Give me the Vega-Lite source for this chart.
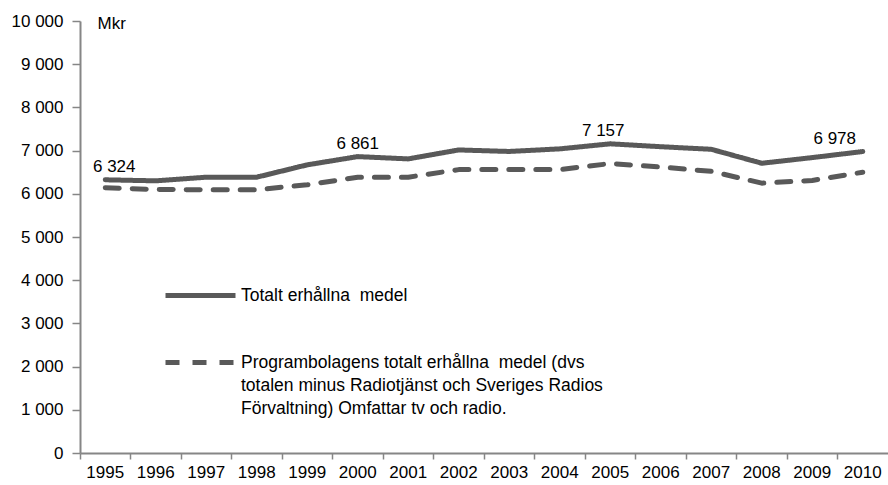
{
  "$schema": "https://vega.github.io/schema/vega-lite/v6.json",
  "width": 808,
  "height": 432,
  "autosize": {"type": "none"},
  "padding": {"left": 80, "top": 21, "right": 0, "bottom": 32},
  "background": "white",
  "config": {
    "view": {"stroke": null},
    "font": "Liberation Sans",
    "style": {"guide-label": {"lineHeight": 23}}
  },
  "data": {
    "values": [
      {"year": "1995", "series": "A", "value": 6324, "label": "6 324"},
      {"year": "1996", "series": "A", "value": 6300, "label": ""},
      {"year": "1997", "series": "A", "value": 6384, "label": ""},
      {"year": "1998", "series": "A", "value": 6384, "label": ""},
      {"year": "1999", "series": "A", "value": 6670, "label": ""},
      {"year": "2000", "series": "A", "value": 6861, "label": "6 861"},
      {"year": "2001", "series": "A", "value": 6808, "label": ""},
      {"year": "2002", "series": "A", "value": 7015, "label": ""},
      {"year": "2003", "series": "A", "value": 6980, "label": ""},
      {"year": "2004", "series": "A", "value": 7040, "label": ""},
      {"year": "2005", "series": "A", "value": 7157, "label": "7 157"},
      {"year": "2006", "series": "A", "value": 7090, "label": ""},
      {"year": "2007", "series": "A", "value": 7030, "label": ""},
      {"year": "2008", "series": "A", "value": 6707, "label": ""},
      {"year": "2009", "series": "A", "value": 6838, "label": ""},
      {"year": "2010", "series": "A", "value": 6978, "label": "6 978"},
      {"year": "1995", "series": "B", "value": 6140, "label": ""},
      {"year": "1996", "series": "B", "value": 6100, "label": ""},
      {"year": "1997", "series": "B", "value": 6094, "label": ""},
      {"year": "1998", "series": "B", "value": 6094, "label": ""},
      {"year": "1999", "series": "B", "value": 6209, "label": ""},
      {"year": "2000", "series": "B", "value": 6384, "label": ""},
      {"year": "2001", "series": "B", "value": 6384, "label": ""},
      {"year": "2002", "series": "B", "value": 6560, "label": ""},
      {"year": "2003", "series": "B", "value": 6560, "label": ""},
      {"year": "2004", "series": "B", "value": 6560, "label": ""},
      {"year": "2005", "series": "B", "value": 6700, "label": ""},
      {"year": "2006", "series": "B", "value": 6620, "label": ""},
      {"year": "2007", "series": "B", "value": 6520, "label": ""},
      {"year": "2008", "series": "B", "value": 6247, "label": ""},
      {"year": "2009", "series": "B", "value": 6309, "label": ""},
      {"year": "2010", "series": "B", "value": 6500, "label": ""}
    ]
  },
  "encoding": {
    "x": {
      "field": "year",
      "type": "ordinal",
      "scale": {"type": "band", "paddingInner": 0, "paddingOuter": 0},
      "axis": {
        "title": null,
        "labelAngle": 0,
        "labelFontSize": 17,
        "labelColor": "#000000",
        "labelPadding": 5,
        "bandPosition": 0,
        "ticks": true,
        "tickSize": 6,
        "tickColor": "#868686",
        "tickWidth": 1.5,
        "domainColor": "#868686",
        "domainWidth": 2,
        "labelOffset": 0
      }
    },
    "y": {
      "field": "value",
      "type": "quantitative",
      "scale": {"domain": [0, 10000], "nice": false},
      "axis": {
        "values": [0, 1000, 2000, 3000, 4000, 5000, 6000, 7000, 8000, 9000, 10000],
        "labelExpr": "replace(format(datum.value, ','), ',', ' ')",
        "grid": false,
        "labelFontSize": 17,
        "labelColor": "#000000",
        "tickSize": 8,
        "tickColor": "#868686",
        "tickWidth": 1.5,
        "labelPadding": 9,
        "domainColor": "#868686",
        "domainWidth": 2,
        "title": "Mkr",
        "titleAngle": 0,
        "titleAlign": "left",
        "titleBaseline": "alphabetic",
        "titleX": 17,
        "titleY": 7,
        "titleFontSize": 17,
        "titleFontWeight": "normal",
        "titleColor": "#000000"
      }
    }
  },
  "layer": [
    {
      "mark": {"type": "line", "strokeWidth": 5, "color": "#595959", "strokeCap": "round", "strokeJoin": "round"},
      "encoding": {
        "strokeDash": {
          "field": "series",
          "type": "nominal",
          "scale": {"domain": ["A", "B"], "range": [[1, 0], [14, 13]]},
          "legend": {
            "title": null,
            "orient": "none",
            "legendX": 83,
            "legendY": 237,
            "symbolType": "stroke",
            "symbolSize": 4900,
            "symbolStrokeWidth": 5,
            "symbolStrokeColor": "#595959",
            "symbolDash": [14, 13],
            "labelFontSize": 17.5,
            "labelColor": "#000000",
            "labelOffset": 3,
            "labelLimit": 600,
            "rowPadding": 19,
            "labelExpr": "datum.value == 'A' ? 'Totalt erhållna\u00a0 medel' : ['Programbolagens totalt erhållna\u00a0 medel (dvs', 'totalen minus Radiotjänst och Sveriges Radios', 'Förvaltning) Omfattar tv och radio.']"
          }
        }
      }
    },
    {
      "transform": [{"filter": "datum.label != ''"}],
      "mark": {"type": "text", "fontSize": 17, "color": "#000000", "baseline": "alphabetic", "dy": -8,
        "dx": {"expr": "datum.year == '1995' ? 9 : datum.year == '2005' ? -7 : datum.year == '2010' ? -28 : 0"}},
      "encoding": {"text": {"field": "label"}}
    }
  ]
}
